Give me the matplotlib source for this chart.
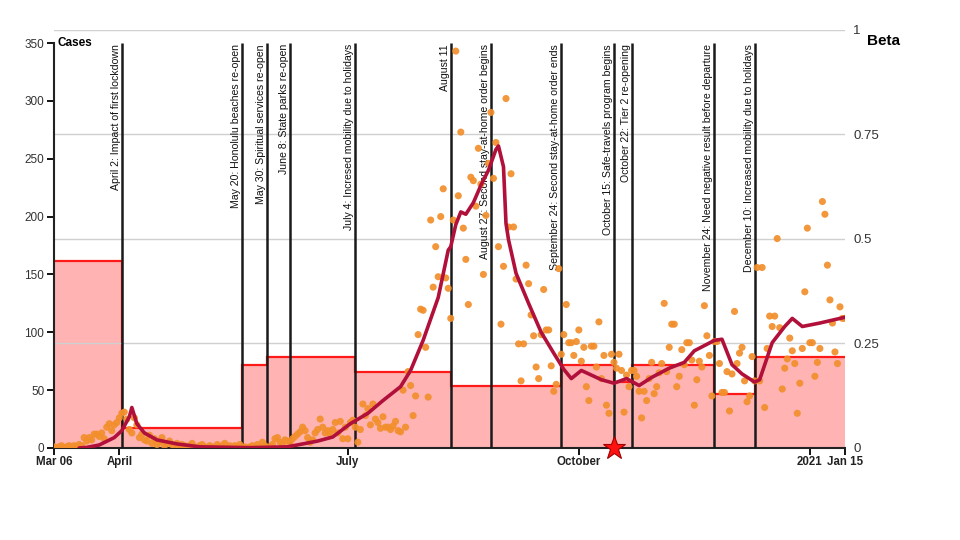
import matplotlib
matplotlib.use("Agg")
import matplotlib.pyplot as plt
import matplotlib.dates as mdates
import pandas as pd

plt.rcParams['font.family'] = ['Liberation Sans', 'DejaVu Sans']

start = pd.Timestamp('2020-03-06')
end = pd.Timestamp('2021-01-15')

# daily reported cases, one value per day from Mar 06
daily_cases = [
    1, 0, 1, 2, 0, 1, 2, 1, 2, 1,
    3, 2, 9, 6, 9, 7, 12, 12, 10, 13,
    8, 18, 21, 15, 20, 22,
    26, 30, 31, 25, 16, 13, 26, 20, 9, 12, 7, 6, 11, 4, 8,
    3, 5, 9, 2, 4, 6, 3, 2, 4, 1, 3, 2, 1, 2, 4,
    1, 0, 2, 3, 1, 0, 2, 1, 0, 3, 1, 2, 4, 1, 2, 0, 2, 1, 3,
    0, 1, 0, 1, 2, 1, 3, 1, 5, 2, 0, 1,
    3, 8, 9, 5, 4, 7, 6, 5, 8, 10, 12, 14, 18, 15, 9, 5, 7, 13, 16, 25,
    18, 13, 15, 12, 16, 22, 13, 23, 8, 18,
    8, 22, 24, 18, 5, 16, 38, 28, 34, 20, 38, 25, 22, 17, 27, 18, 18, 16,
    19, 23, 15, 14, 50, 18, 66, 54, 28, 45, 98, 120, 119,
    87, 44, 197, 139, 174, 148, 200, 224, 147, 138, 112,
    197, 343, 218, 273, 190, 163, 124, 234, 231, 209, 259, 228, 150, 201,
    246, 290, 233, 264, 174, 107, 157, 302, 191, 237, 191, 146, 90, 58,
    90, 158, 142, 115, 97, 70, 60, 98, 137, 102, 102, 71, 49, 55, 155,
    81, 98, 124, 91, 91, 80, 92, 102, 75, 87, 53, 41, 88, 88, 70, 109,
    60, 80, 37, 30, 81, 74, 69, 81, 67, 31, 63, 53, 67, 67, 62, 49, 26,
    49, 41, 60, 74, 47, 53, 65, 73, 125, 66, 87, 107, 107, 53, 62, 85,
    72, 91, 91, 76, 37, 59, 75, 70, 123, 97, 80, 45, 92, 92, 73, 48, 48,
    66, 32, 64, 118, 73, 82, 87, 58, 40, 45, 79, 58, 156, 58, 156, 35,
    86, 114, 105, 114, 181, 104, 51, 69, 77, 95, 84, 73, 30, 56, 86, 135,
    190, 91, 91, 62, 74, 86, 213, 202, 158, 128, 108, 83, 73, 122, 112, 112,
]

# fitted curve, days after Mar 06 and cases
trend_day = [10, 13, 18, 24, 27, 30, 31, 33, 36, 41, 49, 58, 78, 93, 105,
             111, 118, 125, 131, 138, 142, 147, 153, 157, 158, 160, 162,
             164, 167, 170, 173, 176, 177, 179, 180, 181, 184, 189, 194,
             199, 203, 206, 210, 218, 223, 228, 233, 238, 245, 251, 255,
             263, 266, 270, 274, 279, 281, 286, 291, 294, 298, 305, 315]
trend_cases = [0, 0.5, 2.6, 9, 15, 27, 35, 21, 13, 7, 3.5, 1, 0.3, 1, 6,
               9.5, 21, 30, 41, 53, 67, 93, 130, 171, 174, 193, 204,
               202, 212, 227, 240, 258, 261, 243, 194, 180, 151, 125, 100,
               82, 68, 60, 67, 59, 56, 60, 54, 61, 69, 74, 84,
               93, 94, 72, 64, 57, 59, 91, 105, 112, 105, 108, 113]

# transmission rate, piecewise constant
beta_edges = ['2020-03-06', '2020-04-02', '2020-05-20', '2020-05-30',
              '2020-07-04', '2020-08-11', '2020-09-24', '2020-10-15',
              '2020-10-22', '2020-11-24', '2020-12-10', '2021-01-15']
beta_values = [0.447, 0.048, 0.198, 0.218, 0.182, 0.148, 0.198, 0.158,
               0.198, 0.129, 0.218]

event_dates = ['2020-04-02', '2020-05-20', '2020-05-30', '2020-06-08',
               '2020-07-04', '2020-08-11', '2020-08-27', '2020-09-24',
               '2020-10-15', '2020-10-22', '2020-11-24', '2020-12-10']
event_labels = [
    'April 2: Impact of first lockdown',
    'May 20: Honolulu beaches re-open',
    'May 30: Spiritual services re-open',
    'June 8: State parks re-open',
    'July 4: Incresed mobility due to holidays',
    'August 11',
    'August 27: Second stay-at-home order begins',
    'September 24: Second stay-at-home order ends',
    'October 15: Safe-travels program begins',
    'October 22: Tier 2 re-opening',
    'November 24: Need negative result before departure',
    'December 10: Increased mobility due to holidays',
]
star_date = '2020-10-15'

x_ticks = ['2020-03-06', '2020-04-01', '2020-07-01', '2020-10-01',
           '2021-01-01', '2021-01-15']
x_ticklabels = ['Mar 06', 'April', 'July', 'October', '2021', 'Jan 15']

days = pd.date_range(start, periods=len(daily_cases), freq='D')
trend_dates = start + pd.to_timedelta(trend_day, unit='D')

fig = plt.figure(figsize=(9.6, 5.4), dpi=100)
ax = fig.add_axes([54 / 960, 92 / 540, 791 / 960, 418 / 540])
ax2 = ax.twinx()
ax.set_zorder(ax2.get_zorder() + 1)
ax.patch.set_visible(False)

# beta on the right axis, behind everything
edges = mdates.date2num(pd.to_datetime(beta_edges))
ax2.stairs(beta_values, edges, fill=True, facecolor='#ffb3b3', edgecolor='none')
ax2.stairs(beta_values, edges, baseline=None, color='#ff1a1a', lw=1.6)
ax2.set_ylim(0, 1)
ax2.set_yticks([0, 0.25, 0.5, 0.75, 1])
ax2.set_yticklabels(['0', '0.25', '0.5', '0.75', '1'])
ax2.tick_params(axis='y', length=0, pad=6, labelsize=9.5, labelcolor='#333333')
ax2.grid(axis='y', color='#d0d0d0', lw=1)
for s in ax2.spines.values():
    s.set_visible(False)

# cases on the left axis
ev = pd.to_datetime(event_dates)
ax.vlines(ev, 0, 350, color='#1a1a1a', lw=1.8, zorder=3)
for d, lab in zip(ev, event_labels):
    ax.text(d - pd.Timedelta(hours=10), 349, lab, rotation=90, ha='right',
            va='top', fontsize=7.6, color='#111111', zorder=3)

ax.scatter(days, daily_cases, s=26, color='#f28e2b', alpha=0.92,
           edgecolors='none', zorder=4)
ax.plot(trend_dates, trend_cases, color='#b0103a', lw=2.6, zorder=5,
        solid_capstyle='round')
ax.plot(pd.Timestamp(star_date), 0, marker='*', ms=17, color='#ff1111',
        mec='#a00000', mew=0.8, clip_on=False, zorder=6)

ax.set_xlim(start, end)
ax.set_ylim(0, 350 * 418 / 405)
ax.set_yticks(range(0, 351, 50))
ax.tick_params(axis='y', length=5, width=1.3, labelsize=8.5,
               labelcolor='#333333', pad=2)
ax.set_xticks(pd.to_datetime(x_ticks))
ax.set_xticklabels(x_ticklabels)
ax.tick_params(axis='x', length=5, width=1.3, labelsize=8.3,
               labelcolor='#222222', pad=1)
for lab in ax.get_xticklabels():
    lab.set_fontweight('bold')
ax.spines['left'].set_bounds(0, 350)
for side in ('left', 'bottom'):
    ax.spines[side].set_linewidth(1.5)
    ax.spines[side].set_color('#222222')
ax.spines['top'].set_visible(False)
ax.spines['right'].set_visible(False)

ax.text(start + pd.Timedelta(days=1.5), 350, 'Cases', fontsize=8.5,
        fontweight='bold', va='center', ha='left', zorder=6)
fig.text(867 / 960, 1 - 41 / 540, 'Beta', fontsize=11, fontweight='bold',
         va='center', ha='left')

fig.savefig('out.png', dpi=100)
